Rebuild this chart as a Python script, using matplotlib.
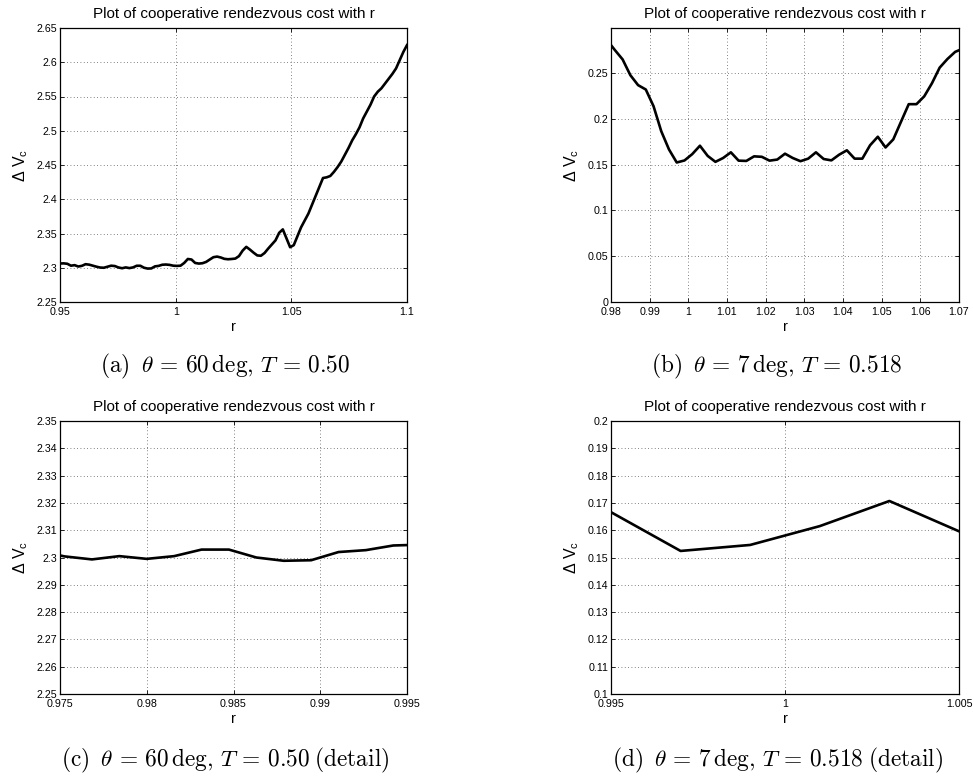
import numpy as np
import matplotlib
matplotlib.use("Agg")
import matplotlib.pyplot as plt

plt.rcParams['font.family'] = ['Liberation Sans', 'DejaVu Sans']
plt.rcParams['mathtext.fontset'] = 'custom'
plt.rcParams['mathtext.rm'] = 'Liberation Sans'
plt.rcParams['mathtext.it'] = 'Liberation Sans:italic'

# Case 1: theta = 60 deg, T = 0.50 -- r sampled on a uniform grid of 96 points
r_a_start, r_a_stop, r_a_count = 0.95, 1.10, 96
dv_a = [2.3062, 2.3064, 2.3058, 2.3030, 2.3038, 2.3018, 2.3028, 2.3052, 2.3045, 2.3030,
        2.3015, 2.3003, 2.3000, 2.3015, 2.3030, 2.3025, 2.3004, 2.2993, 2.3005, 2.2995,
        2.3005, 2.3029, 2.3029, 2.3000, 2.2988, 2.2990, 2.3020, 2.3027, 2.3044, 2.3047,
        2.3042, 2.3030, 2.3027, 2.3030, 2.3070, 2.3128, 2.3120, 2.3070, 2.3061, 2.3066,
        2.3085, 2.3120, 2.3154, 2.3163, 2.3150, 2.3130, 2.3124, 2.3128, 2.3134, 2.3170,
        2.3250, 2.3305, 2.3265, 2.3220, 2.3180, 2.3175, 2.3215, 2.3280, 2.3340, 2.3400,
        2.3510, 2.3560, 2.3430, 2.3300, 2.3330, 2.3460, 2.3590, 2.3690, 2.3790, 2.3920,
        2.4050, 2.4180, 2.4310, 2.4320, 2.4340, 2.4400, 2.4470, 2.4550, 2.4650, 2.4750,
        2.4860, 2.4950, 2.5050, 2.5180, 2.5280, 2.5380, 2.5500, 2.5570, 2.5620, 2.5690,
        2.5760, 2.5830, 2.5910, 2.6030, 2.6150, 2.6250]

# Case 2: theta = 7 deg, T = 0.518 -- r from 0.979 to 1.071 in steps of 0.002
r_b_start, r_b_stop, r_b_count = 0.979, 1.071, 47
dv_b = [0.2860, 0.2752, 0.2650, 0.2478, 0.2369, 0.2321, 0.2139, 0.1865, 0.1666, 0.1524,
        0.1546, 0.1615, 0.1707, 0.1596, 0.1531, 0.1573, 0.1635, 0.1544, 0.1541, 0.1591,
        0.1586, 0.1544, 0.1556, 0.1620, 0.1573, 0.1538, 0.1566, 0.1635, 0.1562, 0.1547,
        0.1609, 0.1657, 0.1566, 0.1566, 0.1712, 0.1805, 0.1688, 0.1776, 0.1969, 0.2161,
        0.2161, 0.2246, 0.2389, 0.2560, 0.2654, 0.2732, 0.2768]

r_a = np.linspace(r_a_start, r_a_stop, r_a_count)
r_b = np.linspace(r_b_start, r_b_stop, r_b_count)

title_text = 'Plot of cooperative rendezvous cost with r'
ylabel_text = r'$\Delta\ \mathrm{V}_{\mathrm{c}}$'

panels = [
    dict(r=r_a, dv=dv_a, xlim=(0.95, 1.10), ylim=(2.25, 2.65),
         xticks=[0.95, 1.0, 1.05, 1.1], xlabels=['0.95', '1', '1.05', '1.1'],
         yticks=[2.25, 2.3, 2.35, 2.4, 2.45, 2.5, 2.55, 2.6, 2.65],
         ylabels=['2.25', '2.3', '2.35', '2.4', '2.45', '2.5', '2.55', '2.6', '2.65'],
         rect=[60, 28, 347, 274], cap_y=366,
         caption=r'(a)$\;\;\theta\,=\,60\,\mathrm{deg},\,T\,=\,0.50$'),
    dict(r=r_b, dv=dv_b, xlim=(0.98, 1.07), ylim=(0.0, 0.2993),
         xticks=[0.98, 0.99, 1.0, 1.01, 1.02, 1.03, 1.04, 1.05, 1.06, 1.07],
         xlabels=['0.98', '0.99', '1', '1.01', '1.02', '1.03', '1.04', '1.05', '1.06', '1.07'],
         yticks=[0, 0.05, 0.1, 0.15, 0.2, 0.25],
         ylabels=['0', '0.05', '0.1', '0.15', '0.2', '0.25'],
         rect=[611, 28, 348, 274], cap_y=366,
         caption=r'(b)$\;\;\theta\,=\,7\,\mathrm{deg},\,T\,=\,0.518$'),
    dict(r=r_a, dv=dv_a, xlim=(0.975, 0.995), ylim=(2.25, 2.35),
         xticks=[0.975, 0.98, 0.985, 0.99, 0.995],
         xlabels=['0.975', '0.98', '0.985', '0.99', '0.995'],
         yticks=[2.25, 2.26, 2.27, 2.28, 2.29, 2.3, 2.31, 2.32, 2.33, 2.34, 2.35],
         ylabels=['2.25', '2.26', '2.27', '2.28', '2.29', '2.3', '2.31', '2.32', '2.33', '2.34', '2.35'],
         rect=[60, 421, 347, 273], cap_y=760,
         caption=r'(c)$\;\;\theta\,=\,60\,\mathrm{deg},\,T\,=\,0.50\;\mathrm{(detail)}$'),
    dict(r=r_b, dv=dv_b, xlim=(0.995, 1.005), ylim=(0.1, 0.2),
         xticks=[0.995, 1.0, 1.005], xlabels=['0.995', '1', '1.005'],
         yticks=[0.1, 0.11, 0.12, 0.13, 0.14, 0.15, 0.16, 0.17, 0.18, 0.19, 0.2],
         ylabels=['0.1', '0.11', '0.12', '0.13', '0.14', '0.15', '0.16', '0.17', '0.18', '0.19', '0.2'],
         rect=[611, 421, 348, 273], cap_y=760,
         caption=r'(d)$\;\;\theta\,=\,7\,\mathrm{deg},\,T\,=\,0.518\;\mathrm{(detail)}$'),
]

W, H = 974, 779
fig = plt.figure(figsize=(W / 100, H / 100), dpi=100)

for p in panels:
    x0, y0, w, h = p['rect']
    ax = fig.add_axes([x0 / W, 1 - (y0 + h) / H, w / W, h / H])
    ax.plot(p['r'], p['dv'], color='black', lw=1.9, solid_joinstyle='round')
    ax.set_xlim(*p['xlim'])
    ax.set_ylim(*p['ylim'])
    ax.set_xticks(p['xticks'])
    ax.set_xticklabels(p['xlabels'])
    ax.set_yticks(p['yticks'])
    ax.set_yticklabels(p['ylabels'])
    ax.tick_params(direction='in', top=True, right=True, length=3, width=0.6,
                   labelsize=7.7)
    ax.tick_params(axis='x', pad=3.5)
    ax.tick_params(axis='y', pad=2)
    ax.grid(True, color='0.35', linestyle=(0, (1, 3)), linewidth=0.6)
    for s in ax.spines.values():
        s.set_linewidth(0.9)
    ax.set_title(title_text, fontsize=11, pad=7)
    ax.set_xlabel('r', fontsize=10.5, labelpad=2.5)
    ax.set_ylabel(ylabel_text, fontsize=11.5, labelpad=5)
    fig.text((x0 + w / 2 - 8) / W, 1 - p['cap_y'] / H, p['caption'],
             ha='center', va='center', fontsize=16.8, family='cmr10',
             math_fontfamily='cm')

fig.savefig('out.png', dpi=100)
